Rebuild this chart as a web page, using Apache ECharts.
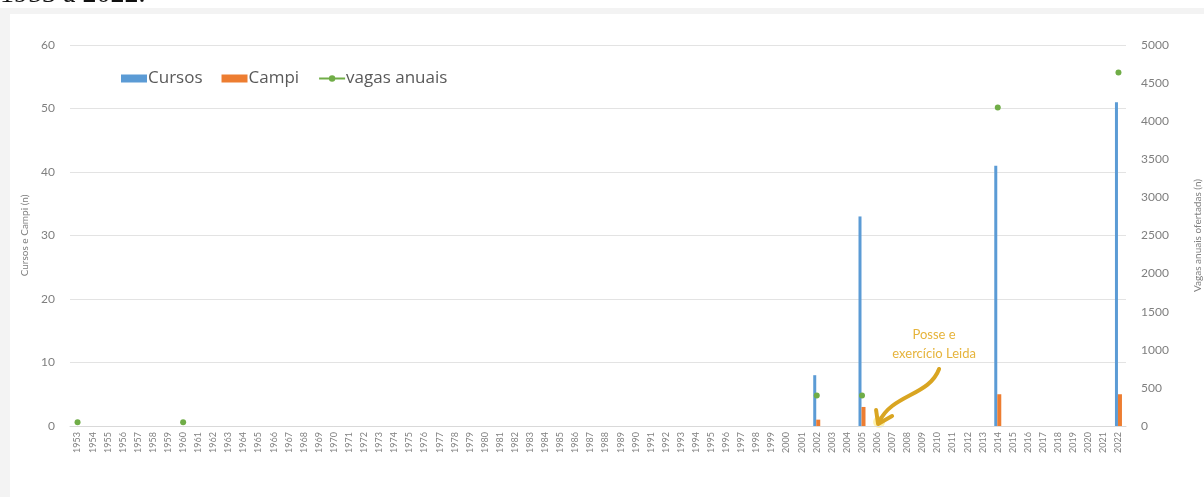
<!DOCTYPE html>
<html>
<head>
<meta charset="utf-8">
<script src="https://cdn.jsdelivr.net/npm/echarts@6/dist/echarts.min.js"></script>
<style>
  html, body { margin: 0; padding: 0; background: #fff; }
  #chartId { width: 1204px; height: 497px; }
</style>
</head>
<body>
<div id="chartId"></div>
<script>
// years 1953..2022 on the x axis
const years = []
for (let y = 1953; y <= 2022; y++) years.push(String(y))

// only these years have values
const dataYears = ['1953', '1960', '2002', '2005', '2014', '2022']
const cursos = [null, null, 8, 33, 41, 51]
const campi = [null, null, 1, 3, 5, 5]
const vagas = [50, 50, 400, 400, 4180, 4640]

const leftTicks = { min: 0, max: 60, interval: 10 }
const rightTicks = { min: 0, max: 5000, interval: 500 }

function spread (vals) {
  return years.map(y => {
    const i = dataYears.indexOf(y)
    return i < 0 ? null : vals[i]
  })
}

const chart = echarts.init(document.getElementById('chartId'))

let option = {
  animation: false,
  textStyle: { fontFamily: 'Lato' },
  grid: { left: 70, right: 78, top: 45, bottom: 71, outerBoundsMode: 'none' },
  legend: {
    left: 116,
    top: 65,
    itemWidth: 26,
    itemHeight: 8,
    itemGap: 19,
    textStyle: { fontSize: 17, color: '#595959', fontFamily: 'Open Sans', padding: [0, 0, 0, -4] },
    data: [
      { name: 'Cursos', icon: 'rect' },
      { name: 'Campi', icon: 'rect' },
      'vagas anuais'
    ]
  },
  xAxis: {
    type: 'category',
    data: years,
    axisLine: { lineStyle: { color: '#d9d9d9' } },
    axisTick: { show: false },
    axisLabel: { interval: 0, rotate: 90, fontSize: 9, color: '#7f7f7f', margin: 6 }
  },
  yAxis: [
    {
      type: 'value',
      min: leftTicks.min, max: leftTicks.max, interval: leftTicks.interval,
      name: 'Cursos e Campi (n)',
      nameLocation: 'middle',
      nameGap: 25,
      nameTextStyle: { fontSize: 10, color: '#7f7f7f' },
      axisLabel: { fontSize: 12, color: '#7f7f7f', margin: 15 },
      splitLine: { lineStyle: { color: '#e3e3e3' } }
    },
    {
      type: 'value',
      min: rightTicks.min, max: rightTicks.max, interval: rightTicks.interval,
      name: 'Vagas anuais ofertadas (n)',
      nameLocation: 'middle',
      nameGap: 67,
      nameTextStyle: { fontSize: 10, color: '#7f7f7f' },
      axisLabel: { fontSize: 12, color: '#7f7f7f', margin: 15, formatter: v => String(v) },
      splitLine: { show: false }
    }
  ],
  series: [
    {
      name: 'Cursos',
      type: 'bar',
      data: spread(cursos),
      barWidth: 3,
      barGap: '0%',
      itemStyle: { color: '#5b9bd5' }
    },
    {
      name: 'Campi',
      type: 'bar',
      data: spread(campi),
      barWidth: 4,
      itemStyle: { color: '#ed7d31' }
    },
    {
      name: 'vagas anuais',
      type: 'line',
      yAxisIndex: 1,
      data: spread(vagas),
      symbol: 'circle',
      symbolSize: 6,
      connectNulls: false,
      itemStyle: { color: '#70ad47' },
      lineStyle: { color: '#70ad47', width: 2 }
    }
  ]
}

chart.setOption(option)

// annotation anchored at the 2006 tick
const tip = chart.convertToPixel({ xAxisIndex: 0, yAxisIndex: 0 }, ['2006', 0])
const gold = '#d9a521'
chart.setOption({
  graphic: [
    {
      type: 'rect', z: -10, silent: true,
      shape: { x: 0, y: 8, width: 1204, height: 497 },
      style: { fill: '#f3f3f3' }
    },
    {
      type: 'rect', z: -9, silent: true,
      shape: { x: 10, y: 14, width: 1194, height: 483 },
      style: { fill: '#ffffff' }
    },
    {
      type: 'text', left: 0, top: -19,
      style: { text: '1953 a 2022.', font: '28px "Liberation Serif"', fill: '#111' }
    },
    {
      type: 'text',
      x: tip[0] + 57, y: tip[1] - 101,
      style: {
        text: 'Posse e\nexercício Leida',
        font: '13px Lato',
        fill: '#e6b43c',
        align: 'center',
        lineHeight: 19
      }
    },
    {
      type: 'circle',
      shape: { cx: tip[0] + 2, cy: tip[1] - 4, r: 6 },
      style: { fill: 'rgba(255,235,120,0.6)' }
    },
    {
      type: 'bezierCurve',
      shape: {
        x1: tip[0] + 62, y1: tip[1] - 57,
        cpx1: tip[0] + 52, cpy1: tip[1] - 30,
        cpx2: tip[0] + 15, cpy2: tip[1] - 32,
        x2: tip[0] + 2, y2: tip[1] - 4
      },
      style: { stroke: gold, lineWidth: 4, fill: null, lineCap: 'round' }
    },
    {
      type: 'polyline',
      shape: { points: [[tip[0] - 1, tip[1] - 16], [tip[0] + 1, tip[1] - 2], [tip[0] + 15, tip[1] - 10]] },
      style: { stroke: gold, lineWidth: 4, fill: null, lineCap: 'round', lineJoin: 'round' }
    }
  ]
})

window.onresize = function () {
  chart.resize()
}
</script>
</body>
</html>
